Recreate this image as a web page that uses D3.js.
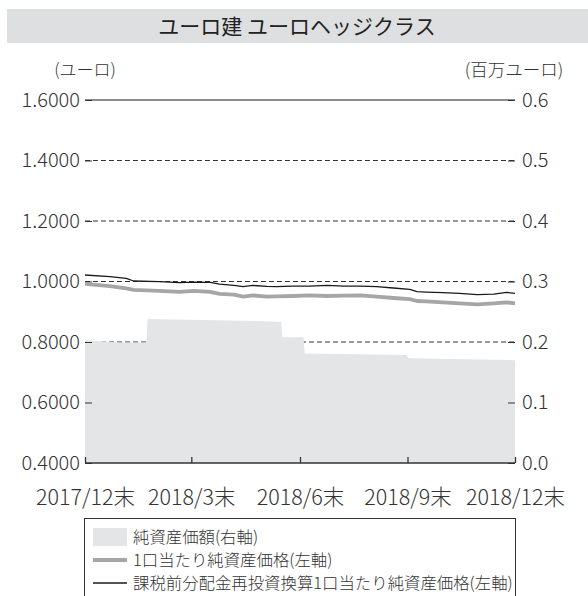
<!DOCTYPE html>
<html>
<head>
<meta charset="utf-8">
<script src="https://cdn.jsdelivr.net/npm/d3@7"></script>
<style>
  body { margin: 0; background: #fff; }
  svg text { font-family: "Noto Sans CJK JP", "Noto Sans", sans-serif; font-weight: 300; }
  svg text.title { font-weight: 400; }
  .axis text { fill: #333; }
  .axis .domain { display: none; }
</style>
</head>
<body>
<svg width="588" height="596"></svg>
<script>
(() => {
  // line dates (shared by both price series)
  const lineDates = [
    "2017-12-29", "2018-01-19", "2018-02-02", "2018-02-08", "2018-03-02", "2018-03-19",
    "2018-03-31", "2018-04-14", "2018-04-22", "2018-05-04", "2018-05-12", "2018-05-20",
    "2018-06-01", "2018-06-09", "2018-06-23", "2018-07-07", "2018-07-22", "2018-08-05",
    "2018-08-19", "2018-09-02", "2018-09-16", "2018-09-30", "2018-10-06", "2018-10-14",
    "2018-10-28", "2018-11-11", "2018-11-26", "2018-12-10", "2018-12-21", "2018-12-28"
  ];
  // 課税前分配金再投資換算1口当たり純資産価格 (left axis)
  const reinvestedNav = [
    1.0215, 1.016, 1.0105, 1.0017, 0.9995, 0.996,
    0.998, 0.997, 0.991, 0.987, 0.983, 0.987,
    0.984, 0.983, 0.985, 0.985, 0.987, 0.985,
    0.985, 0.983, 0.9785, 0.974, 0.9665, 0.965,
    0.963, 0.961, 0.9565, 0.958, 0.964, 0.961
  ];
  // 1口当たり純資産価格 (left axis)
  const navPerUnit = [
    0.992, 0.985, 0.977, 0.972, 0.969, 0.966,
    0.969, 0.966, 0.959, 0.9565, 0.950, 0.954,
    0.950, 0.951, 0.952, 0.954, 0.952, 0.953,
    0.954, 0.950, 0.9455, 0.942, 0.9355, 0.934,
    0.931, 0.928, 0.9245, 0.928, 0.931, 0.928
  ];
  // 純資産価額 (right axis, 百万ユーロ)
  const assetDates = [
    "2017-12-29", "2018-01-28", "2018-02-19", "2018-02-20", "2018-06-06", "2018-06-13",
    "2018-06-14", "2018-07-02", "2018-07-03", "2018-09-27", "2018-09-29", "2018-12-28"
  ];
  const netAssets = [
    0.203, 0.199, 0.199, 0.238, 0.234, 0.233,
    0.208, 0.208, 0.181, 0.1785, 0.173, 0.170
  ];

  const leftTicks = [0.4, 0.6, 0.8, 1.0, 1.2, 1.4, 1.6];
  const rightTicks = [0, 0.1, 0.2, 0.3, 0.4, 0.5, 0.6];
  const xTickDates = ["2017-12-29", "2018-03-29", "2018-06-29", "2018-09-28", "2018-12-28"];
  const xTickLabels = ["2017/12末", "2018/3末", "2018/6末", "2018/9末", "2018/12末"];
  const legendLabels = [
    "純資産価額(右軸)",
    "1口当たり純資産価格(左軸)",
    "課税前分配金再投資換算1口当たり純資産価格(左軸)"
  ];

  const parse = d3.timeParse("%Y-%m-%d");
  const svg = d3.select("svg");
  const left = 85, right = 515, top = 100, bottom = 463;

  const x = d3.scaleTime()
    .domain([parse("2017-12-29"), parse("2018-12-28")])
    .range([left, right]);
  const yL = d3.scaleLinear().domain([0.4, 1.6]).range([bottom, top]);
  const yR = d3.scaleLinear().domain([0, 0.6]).range([bottom, top]);

  // title band
  svg.append("rect")
    .attr("x", 7).attr("y", 9).attr("width", 581).attr("height", 34)
    .attr("fill", "#dedfe0");
  svg.append("text")
    .attr("class", "title")
    .attr("x", 297).attr("y", 26).attr("dy", "0.36em")
    .attr("text-anchor", "middle")
    .attr("font-size", 21).attr("fill", "#222")
    .text("ユーロ建 ユーロヘッジクラス");

  // unit labels
  svg.append("text")
    .attr("x", 85).attr("y", 70).attr("dy", "0.36em")
    .attr("text-anchor", "middle").attr("font-size", 17).attr("fill", "#333")
    .text("(ユーロ)");
  svg.append("text")
    .attr("x", 514).attr("y", 70).attr("dy", "0.36em")
    .attr("text-anchor", "middle").attr("font-size", 17.5).attr("fill", "#333")
    .text("(百万ユーロ)");

  // gridlines
  svg.append("g")
    .selectAll("line")
    .data(leftTicks.filter(d => d > 0.4))
    .enter().append("line")
      .attr("x1", left).attr("x2", right)
      .attr("y1", d => yL(d)).attr("y2", d => yL(d))
      .attr("stroke", d => d === 1.6 ? "#666" : "#333")
      .attr("stroke-width", d => d === 1.6 ? 1.6 : 1)
      .attr("stroke-dasharray", d => d === 1.6 ? null : "5,3");

  // net asset area
  const assetData = assetDates.map((d, i) => ({ date: parse(d), value: netAssets[i] }));
  svg.append("path")
    .datum(assetData)
    .attr("fill", "#e4e5e7")
    .attr("d", d3.area()
      .x(d => x(d.date))
      .y0(yR(0))
      .y1(d => yR(d.value)));

  // y axes
  svg.append("g")
    .attr("class", "axis")
    .attr("transform", "translate(" + left + ",0)")
    .call(d3.axisLeft(yL).tickValues(leftTicks).tickSize(-7).tickPadding(5)
      .tickFormat(d3.format(".4f")))
    .call(g => g.selectAll(".tick line").attr("stroke", "#333"))
    .call(g => g.selectAll("text").attr("font-size", 20));

  svg.append("g")
    .attr("class", "axis")
    .attr("transform", "translate(" + right + ",0)")
    .call(d3.axisRight(yR).tickValues(rightTicks).tickSize(-7).tickPadding(7)
      .tickFormat(d3.format(".1f")))
    .call(g => g.selectAll(".tick line").attr("stroke", "#333"))
    .call(g => g.selectAll("text").attr("font-size", 20));

  // price lines
  const grayData = lineDates.map((d, i) => ({ date: parse(d), value: navPerUnit[i] }));
  const blackData = lineDates.map((d, i) => ({ date: parse(d), value: reinvestedNav[i] }));
  const line = d3.line().x(d => x(d.date)).y(d => yL(d.value));

  svg.append("path")
    .datum(grayData)
    .attr("fill", "none")
    .attr("stroke", "#a6a6a6")
    .attr("stroke-width", 3.8)
    .attr("stroke-linejoin", "round")
    .attr("d", line);

  svg.append("path")
    .datum(blackData)
    .attr("fill", "none")
    .attr("stroke", "#1a1a1a")
    .attr("stroke-width", 1.3)
    .attr("stroke-linejoin", "round")
    .attr("d", line);

  // x axis
  svg.append("line")
    .attr("x1", left).attr("x2", right)
    .attr("y1", bottom).attr("y2", bottom)
    .attr("stroke", "#333").attr("stroke-width", 1.5);

  svg.append("g")
    .attr("class", "axis")
    .attr("transform", "translate(0," + bottom + ")")
    .call(d3.axisBottom(x).tickValues(xTickDates.map(parse)).tickSize(-6).tickPadding(27)
      .tickFormat((d, i) => xTickLabels[i]))
    .call(g => g.selectAll(".tick line").attr("stroke", "#333").attr("stroke-width", 1.3))
    .call(g => g.selectAll("text").attr("font-size", 21.5));

  // legend
  svg.append("rect")
    .attr("x", 84.5).attr("y", 518.5).attr("width", 431).attr("height", 100)
    .attr("fill", "none").attr("stroke", "#333").attr("stroke-width", 1);

  const legendY = [537, 560, 583];
  const legend = svg.append("g")
    .selectAll("g")
    .data(legendLabels)
    .enter().append("g")
      .attr("transform", (d, i) => "translate(0," + legendY[i] + ")");

  legend.each(function(d, i) {
    const g = d3.select(this);
    if (i === 0) {
      g.append("rect").attr("x", 93).attr("y", -9).attr("width", 34).attr("height", 18)
        .attr("fill", "#e4e5e7");
    } else {
      g.append("line").attr("x1", 93).attr("x2", 127)
        .attr("stroke", i === 1 ? "#a6a6a6" : "#1a1a1a")
        .attr("stroke-width", i === 1 ? 3.8 : 1.3);
    }
  });

  legend.append("text")
    .attr("x", 133)
    .attr("dy", "0.36em")
    .attr("font-size", 16.4)
    .attr("fill", "#333")
    .text(d => d);
})();
</script>
</body>
</html>
